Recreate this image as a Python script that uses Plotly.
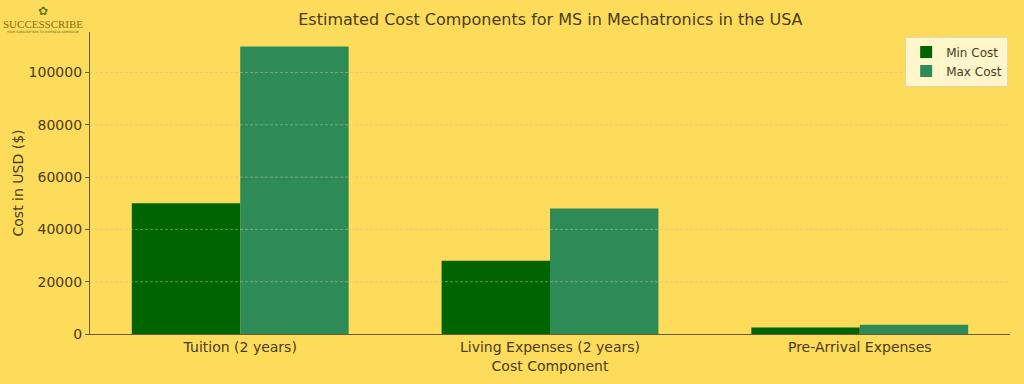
import plotly.graph_objects as go

categories = ["Tuition (2 years)", "Living Expenses (2 years)", "Pre-Arrival Expenses"]
min_cost = [50000, 28000, 2500]
max_cost = [110000, 48000, 3500]
y_ticks = [0, 20000, 40000, 60000, 80000, 100000]

BG = "#FEDC5B"
TXT = "#4A3B1C"
FONT = "DejaVu Sans"

fig = go.Figure()
fig.add_trace(go.Bar(x=categories, y=min_cost, name="Min Cost", marker=dict(color="#006400", line=dict(width=0))))
fig.add_trace(go.Bar(x=categories, y=max_cost, name="Max Cost", marker=dict(color="#2E8B57", line=dict(width=0))))

# dashed gridlines drawn over the bars
for t in y_ticks[1:]:
    fig.add_shape(type="line", xref="paper", x0=0, x1=1, yref="y", y0=t, y1=t,
                  line=dict(color="rgba(200,190,170,0.5)", width=1, dash="3px,2px"), layer="above")

fig.update_layout(
    width=1024, height=384,
    paper_bgcolor=BG, plot_bgcolor=BG,
    font=dict(family=FONT, color=TXT, size=14),
    margin=dict(l=90, r=14, t=32, b=50),
    barmode="group", bargap=0.3, bargroupgap=0,
    title=dict(text="Estimated Cost Components for MS in Mechatronics in the USA",
               x=0.5375, xanchor="center", y=0.95, yanchor="middle",
               font=dict(size=16, color=TXT, family=FONT)),
    legend=dict(x=0.998, y=0.985, xanchor="right", yanchor="top",
                bgcolor="rgba(255,250,225,0.85)", bordercolor="rgba(220,210,180,0.8)", borderwidth=1,
                font=dict(size=12, color=TXT), itemwidth=30),
    showlegend=True,
)
fig.update_xaxes(range=[-0.485, 2.485], showline=True, linecolor="#6B5A33", linewidth=1.3,
                 ticks="", showgrid=False, tickfont=dict(size=14, color=TXT),
                 title=dict(text="Cost Component", font=dict(size=14, color=TXT), standoff=7))
fig.update_yaxes(range=[0, 115500], tickvals=y_ticks, ticktext=[str(v) for v in y_ticks],
                 showline=True, linecolor="#6B5A33", linewidth=1.3, ticks="outside", ticklen=4,
                 tickcolor="#6B5A33", showgrid=False, zeroline=False,
                 tickfont=dict(size=14, color=TXT),
                 title=dict(text="Cost in USD ($)", font=dict(size=14, color=TXT), standoff=1))

# logo
fig.add_annotation(text="✿", xref="paper", yref="paper", x=-0.0515, y=1.068,
                   xanchor="center", yanchor="middle", showarrow=False,
                   font=dict(family=FONT, size=12, color="#6B7A1A"))
fig.add_annotation(text="SUCCESSCRIBE", xref="paper", yref="paper", x=-0.0515, y=1.025,
                   xanchor="center", yanchor="middle", showarrow=False,
                   font=dict(family="Liberation Serif", size=11, color="#8A6D12"))
fig.add_annotation(text="YOUR SUBSCRIPTION TO OVERSEAS ADMISSION", xref="paper", yref="paper", x=-0.0515, y=1.0,
                   xanchor="center", yanchor="middle", showarrow=False,
                   font=dict(family=FONT, size=3, color="#5A6A12"))

fig.write_html("out.html", config={"displayModeBar": False},
               post_script="document.body.style.margin='0';document.body.style.background='#FEDC5B';")
